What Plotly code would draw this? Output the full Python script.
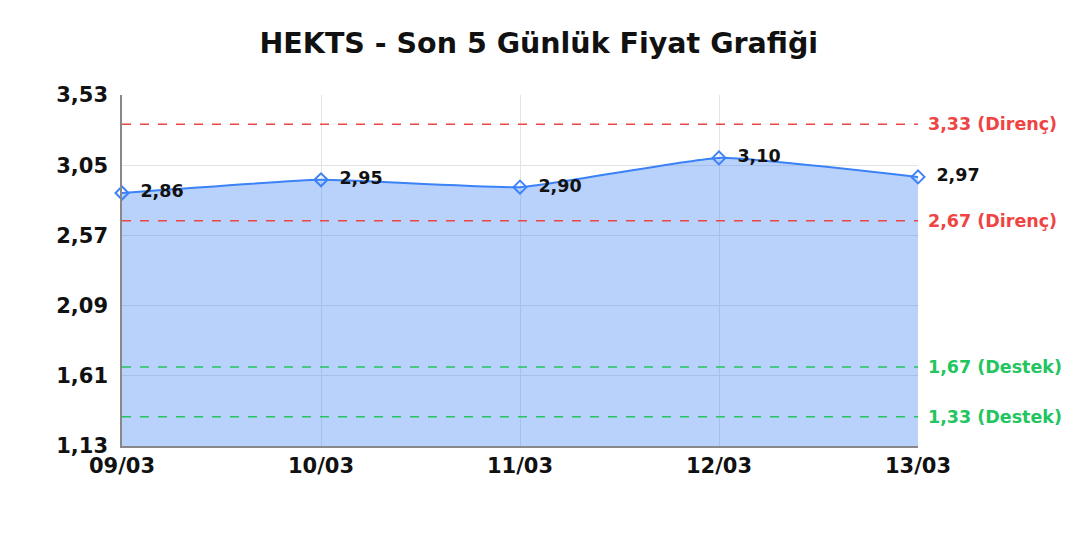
import plotly.graph_objects as go

dates = ["09/03", "10/03", "11/03", "12/03", "13/03"]
prices = [2.86, 2.95, 2.90, 3.10, 2.97]
price_labels = ["2,86", "2,95", "2,90", "3,10", "2,97"]
resistance_levels = [3.33, 2.67]
support_levels = [1.67, 1.33]
y_ticks = [1.13, 1.61, 2.09, 2.57, 3.05, 3.53]

FONT = "DejaVu Sans"
BLUE = "#3b82f6"
RED = "#ef4444"
GREEN = "#22c55e"

def fmt(v):
    return f"{v:.2f}".replace(".", ",")

fig = go.Figure()
fig.add_trace(go.Scatter(
    x=dates, y=prices, mode="lines+markers+text",
    text=["  <b>" + t + "</b>" for t in price_labels], textposition="middle right",
    textfont=dict(family=FONT, size=17.5, color="#111111"),
    line=dict(color=BLUE, width=2, shape="spline", smoothing=0.4),
    marker=dict(symbol="diamond-open", size=10, color=BLUE, line=dict(width=2, color=BLUE)),
    fill="tozeroy", fillcolor="rgba(59,130,246,0.36)",
    cliponaxis=False, showlegend=False,
))

for lvl in resistance_levels:
    fig.add_shape(type="line", xref="paper", x0=0, x1=1, yref="y", y0=lvl, y1=lvl,
                  line=dict(color=RED, width=1.3, dash="dash"))
    fig.add_annotation(xref="paper", x=1.0, xshift=8, y=lvl, yref="y", xanchor="left",
                       text=f"<b>{fmt(lvl)} (Direnç)</b>", showarrow=False,
                       font=dict(family=FONT, size=17.5, color=RED))
for lvl in support_levels:
    fig.add_shape(type="line", xref="paper", x0=0, x1=1, yref="y", y0=lvl, y1=lvl,
                  line=dict(color=GREEN, width=1.3, dash="dash"))
    fig.add_annotation(xref="paper", x=1.0, xshift=8, y=lvl, yref="y", xanchor="left",
                       text=f"<b>{fmt(lvl)} (Destek)</b>", showarrow=False,
                       font=dict(family=FONT, size=17.5, color=GREEN))

fig.update_layout(
    width=1080, height=540,
    margin=dict(l=114, r=170, t=87, b=102),
    paper_bgcolor="white", plot_bgcolor="white",
    separators=",.",
    title=dict(text="<b>HEKTS - Son 5 Günlük Fiyat Grafiği</b>", x=0.4915, xanchor="center",
               y=0.935, yanchor="middle", font=dict(family=FONT, size=28.5, color="#111111")),
    font=dict(family=FONT),
)
fig.update_xaxes(type="category", range=[0, 4], showgrid=True, gridcolor="#e3e3e3",
                 showline=True, linecolor="#888888", linewidth=1.5,
                 tickfont=dict(family=FONT, size=21, color="#111111"), ticks="",
                 tickprefix="<b>", ticksuffix="</b>")
fig.update_yaxes(range=[1.13, 3.53], tickvals=y_ticks,
                 ticktext=["<b>" + fmt(v) + "</b>" for v in y_ticks],
                 showgrid=True, gridcolor="#e3e3e3", zeroline=False,
                 showline=True, linecolor="#888888", linewidth=1.5,
                 tickfont=dict(family=FONT, size=21, color="#111111"), ticks="",
                 ticklabelstandoff=8)

fig.write_html("out.html")
